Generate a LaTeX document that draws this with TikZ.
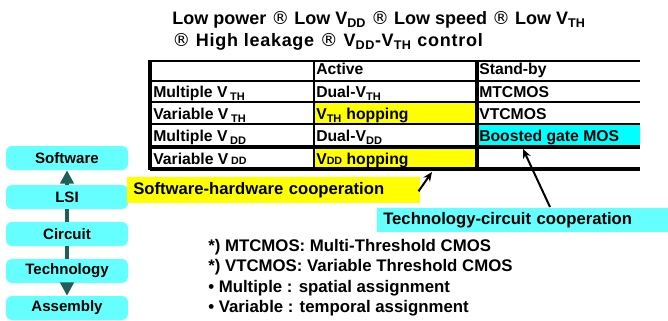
\documentclass[tikz,border=0pt]{standalone}
\usepackage{fontspec}
\setmainfont{Liberation Sans}
\newfontfamily\symfam{DejaVu Sans}
\usetikzlibrary{arrows.meta,calc}
\definecolor{lcyan}{HTML}{66FFFF}
\definecolor{ccyan}{HTML}{00FFFF}
\definecolor{yel}{HTML}{FFFF00}
\definecolor{tealdk}{HTML}{1F5F5A}
\newcommand\rsym{{\symfam\mdseries\char"00AE}}
\newcommand\sbs[1]{\textsubscript{#1}}
\newcommand\sml[1]{{\fontsize{8}{9}\selectfont #1}}
\begin{document}
\begin{tikzpicture}[x=0.75pt,y=-0.75pt,
  every node/.style={inner sep=0pt},
  layerbox/.style={fill=lcyan, rounded corners=4.5pt, minimum width=91.5pt, minimum height=18pt,
    font=\bfseries\fontsize{11.3}{13}\selectfont},
  layerline/.style={draw=tealdk, line width=3.6pt},
  celltext/.style={anchor=base west, font=\bfseries\fontsize{11.8}{13}\selectfont},
  coop/.style={anchor=north west, inner xsep=4.5pt, inner ysep=0pt, align=left,
    font=\bfseries\fontsize{12.5}{14}\selectfont},
  notetext/.style={anchor=base west, font=\bfseries\fontsize{12.6}{15}\selectfont},
  titletext/.style={anchor=base west, font=\bfseries\fontsize{13.5}{16}\selectfont},
  ptr/.style={draw, line width=1.5pt, -{Stealth[length=7pt,width=6pt]}},
  rowline/.style={line width=1.2pt},
  boldline/.style={line width=2.6pt}
]
\useasboundingbox (0,0) rectangle (668,321);

% title
\node[titletext] (t1) at (172,25) {Low power \rsym{} Low V\sbs{DD} \rsym{} Low speed \rsym{} Low V\sbs{TH}};
\node[titletext] (t2) at (172,47) {\addfontfeature{LetterSpace=4}\rsym{} High leakage \rsym{} V\sbs{DD}-V\sbs{TH} control};

% table fills
\fill[yel] (314,102) rectangle (477,124);
\fill[yel] (314,147) rectangle (477,169);
\fill[ccyan] (477,124) rectangle (640,147);

% table lines
\draw[rowline] (150,61) -- (640,61);
\draw[rowline] (150,81) -- (640,81);
\draw[rowline] (150,102) -- (640,102);
\draw[rowline] (150,124) -- (640,124);
\draw[boldline] (150,147) -- (640,147);
\draw[boldline] (150,169) -- (640,169);
\draw[boldline] (150,60) -- (150,170);
\draw[line width=1.4pt] (314,61) -- (314,169);
\draw[boldline] (477,60) -- (477,170);

% table texts
\node[celltext] (hact) at (316,75) {Active};
\node[celltext] (hsb) at (479,75) {Stand-by};
\node[celltext] (r1) at (153,98) {Multiple V\,\sbs{TH}};
\node[celltext] (r1a) at (316,98) {Dual-V\sbs{TH}};
\node[celltext] (r1s) at (479,98) {MTCMOS};
\node[celltext] (r2) at (153,120) {Variable V\,\sbs{TH}};
\node[celltext] (r2a) at (316,120) {V\sbs{TH} hopping};
\node[celltext] (r2s) at (479,120) {VTCMOS};
\node[celltext] (r3) at (153,142) {Multiple V\,\sbs{DD}};
\node[celltext] (r3a) at (316,142) {Dual-V\sbs{DD}};
\node[celltext] (r3s) at (479,142) {Boosted gate MOS};
\node[celltext] (r4) at (153,165) {Variable V\,\sml{DD}};
\node[celltext] (r4a) at (316,165) {V\sml{DD} hopping};

% layer stack
\node[layerbox] (sw) at (67,158) {Software};
\node[layerbox] (lsi) at (67,197) {LSI};
\node[layerbox] (cir) at (67,234) {Circuit};
\node[layerbox] (tech) at (67,271) {Technology};
\node[layerbox] (asm) at (67,308) {Assembly};
\draw[layerline, -{Triangle[length=10pt,width=10pt]}] (lsi) -- (sw);
\draw[layerline] (lsi) -- (cir);
\draw[layerline] (cir) -- (tech);
\draw[layerline, -{Triangle[length=10pt,width=10pt]}] (tech) -- (asm);

% cooperation boxes
\node[coop, fill=yel, text width=210.75pt, minimum height=19.5pt] (swc) at (127,177) {Software-hardware cooperation};
\node[coop, fill=lcyan, text width=209.25pt, minimum height=18pt] (tcc) at (377,208) {Technology-circuit cooperation};
\coordinate (swtip) at (432,172);
\coordinate (tctip) at (523,149);
\draw[ptr] ($(swc.east)+(-2,1)$) -- (swtip);
\draw[ptr] ($(tcc.north west)+(173,-1)$) -- (tctip);

% notes
\node[notetext] (n1) at (208,251) {*) MTCMOS: Multi-Threshold CMOS};
\node[notetext] (n2) at (208,271) {*) VTCMOS: Variable Threshold CMOS};
\node[notetext] (n3) at (208,292) {• Multiple : spatial assignment};
\node[notetext] (n4) at (208,312) {• Variable : temporal assignment};
\end{tikzpicture}
\end{document}
